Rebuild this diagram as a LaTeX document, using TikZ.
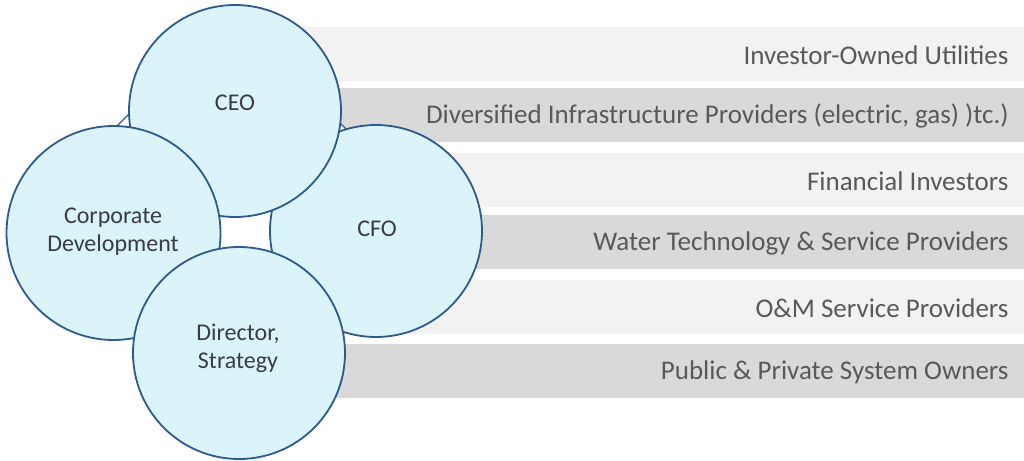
\documentclass[tikz,border=0pt]{standalone}
\usepackage{fontspec}
\setmainfont{Carlito}

\definecolor{ringblue}{HTML}{2F5A8E}
\definecolor{bubble}{HTML}{DAF4FA}
\definecolor{bandlight}{HTML}{F2F2F2}
\definecolor{banddark}{HTML}{D9D9D9}
\definecolor{bandink}{HTML}{595959}
\definecolor{roleink}{HTML}{3A3A48}

\tikzset{
  rolecircle/.style={draw=ringblue, line width=1.8pt, fill=bubble},
  rolelabel/.style={text=roleink, font=\fontsize{24}{28}\selectfont, align=center},
  bandlabel/.style={text=bandink, font=\fontsize{27}{32}\selectfont, anchor=east}
}

\begin{document}
\begin{tikzpicture}[x=1pt,y=-1pt]
\useasboundingbox (0,0) rectangle (1024,460);

% Grey bands, one for each investor group, labels set flush right
\foreach \ytop/\tone/\bid/\txt in {27/bandlight/iou/Investor-Owned Utilities,
    88/banddark/dip/{Diversified Infrastructure Providers (electric, gas) )tc.)},
    153/bandlight/fin/Financial Investors,
    215/banddark/wts/Water Technology \& Service Providers,
    280/bandlight/oms/O\&M Service Providers,
    344/banddark/pps/Public \& Private System Owners}
  {
  \fill [\tone] (290,\ytop) rectangle (1024,\ytop+54);
  \node [bandlabel] (\bid) at (1012,\ytop+28) {\txt};
  }

% Centres of the four role circles
\coordinate (ceo) at (235,111);
\coordinate (cd) at (113.5,233);
\coordinate (cfo) at (376,231);
\coordinate (ds) at (239,353);

% Diamond behind the circles, only its corners between the circles show
\coordinate (dtop) at (230,13);
\coordinate (dleft) at (62,181);
\coordinate (dbottom) at (230,349);
\coordinate (dright) at (398,181);
\filldraw [fill=white, draw=ringblue, line width=1.2pt] (dtop)--(dleft)--(dbottom)--(dright)--cycle;

% Circles, drawn in the order in which they overlap
\foreach \c/\r in {cfo/106pt,ceo/106pt,cd/107pt,ds/106pt}
	\draw [rolecircle] (\c) circle [radius=\r];

% Role names
\node [rolelabel] (ceotext) at (235,103) {CEO};
\node [rolelabel] (cdtext) at (113,232) {Corporate\\Development};
\node [rolelabel] (cfotext) at (377,229) {CFO};
\node [rolelabel] (dstext) at (238,348) {Director,\\Strategy};
\end{tikzpicture}
\end{document}
